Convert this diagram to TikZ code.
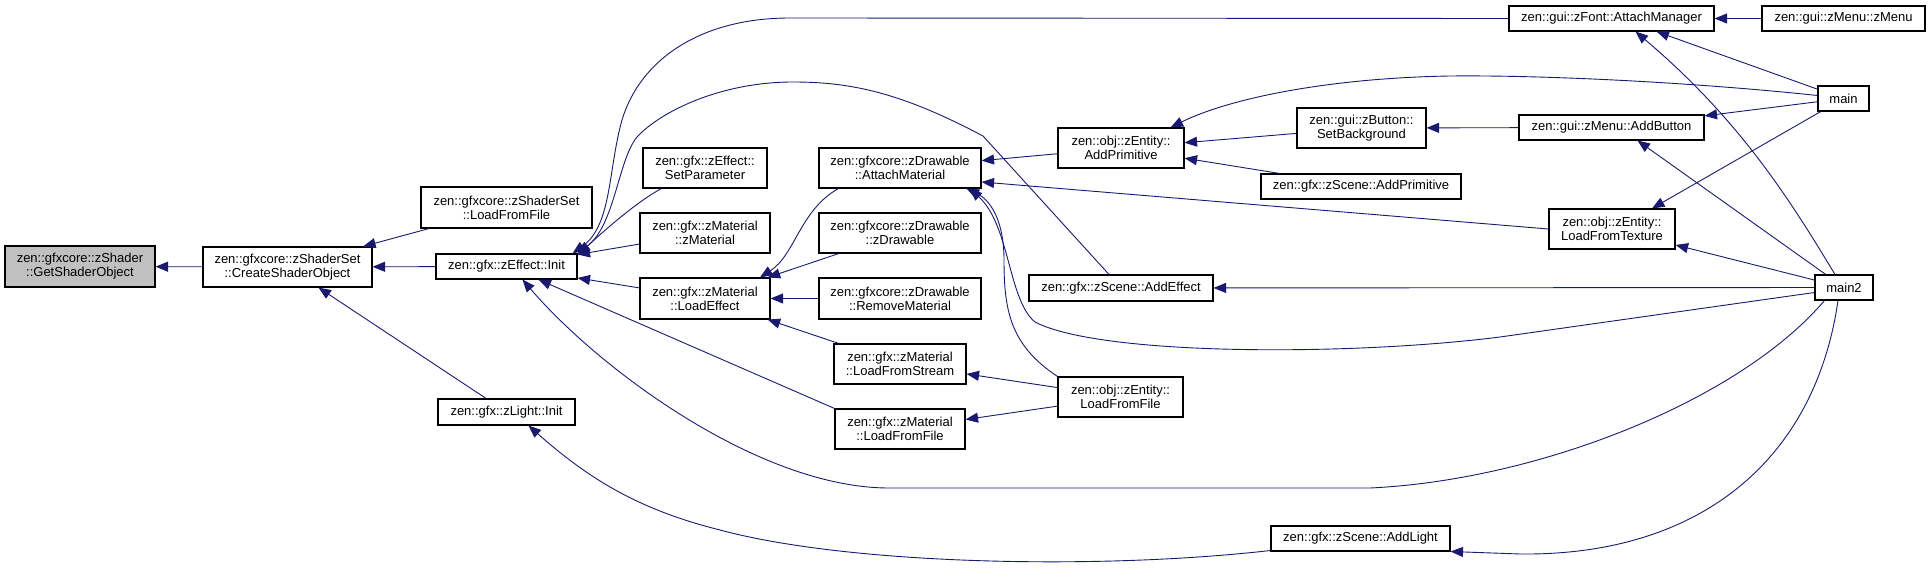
\documentclass[tikz,border=0pt]{standalone}
\usepackage[svgnames]{xcolor}
\usepackage{fontspec}
\setmainfont{Liberation Sans}
\usetikzlibrary{arrows.meta}

\begin{document}
\begin{tikzpicture}[x=1pt, y=-1pt, every node/.style={inner sep=0pt, font=\fontsize{13}{14}\selectfont},
  fn/.style={draw=black, line width=1.1pt, fill=white, align=center},
  edge/.style={draw=MidnightBlue, line width=0.9pt, -{Triangle[length=12.5pt,width=10pt]}}]
  \useasboundingbox (0,0) rectangle (1931,569);
  \node[fn, fill=Silver, minimum width=150, minimum height=41] (getshader) at (80,266.5) {zen::gfxcore::zShader\\::GetShaderObject};
  \node[fn, minimum width=169, minimum height=40] (createshader) at (287.5,267) {zen::gfxcore::zShaderSet\\::CreateShaderObject};
  \node[fn, minimum width=171, minimum height=41] (setloadfile) at (506.5,207.5) {zen::gfxcore::zShaderSet\\::LoadFromFile};
  \node[fn, minimum width=141, minimum height=25] (effectinit) at (506.5,266.5) {zen::gfx::zEffect::Init};
  \node[fn, minimum width=137, minimum height=26] (lightinit) at (506.5,412) {zen::gfx::zLight::Init};
  \node[fn, minimum width=124, minimum height=40] (setparam) at (705,168) {zen::gfx::zEffect::\\SetParameter};
  \node[fn, minimum width=130, minimum height=40] (matctor) at (705,233) {zen::gfx::zMaterial\\::zMaterial};
  \node[fn, minimum width=130, minimum height=41] (loadeffect) at (705,298.5) {zen::gfx::zMaterial\\::LoadEffect};
  \node[fn, minimum width=162, minimum height=40] (attachmat) at (900,168) {zen::gfxcore::zDrawable\\::AttachMaterial};
  \node[fn, minimum width=162, minimum height=40] (drawctor) at (900,233) {zen::gfxcore::zDrawable\\::zDrawable};
  \node[fn, minimum width=162, minimum height=41] (removemat) at (900,298.5) {zen::gfxcore::zDrawable\\::RemoveMaterial};
  \node[fn, minimum width=132, minimum height=40] (loadstream) at (900,364) {zen::gfx::zMaterial\\::LoadFromStream};
  \node[fn, minimum width=130, minimum height=40] (matloadfile) at (900,429) {zen::gfx::zMaterial\\::LoadFromFile};
  \node[fn, minimum width=126, minimum height=40] (addprim) at (1121,148) {zen::obj::zEntity::\\AddPrimitive};
  \node[fn, minimum width=184, minimum height=26] (addeffect) at (1121,288) {zen::gfx::zScene::AddEffect};
  \node[fn, minimum width=125, minimum height=40] (entloadfile) at (1120.5,397) {zen::obj::zEntity::\\LoadFromFile};
  \node[fn, minimum width=129, minimum height=40] (setbg) at (1361.5,128) {zen::gui::zButton::\\SetBackground};
  \node[fn, minimum width=200, minimum height=25] (sceneaddprim) at (1361,186.5) {zen::gfx::zScene::AddPrimitive};
  \node[fn, minimum width=179, minimum height=25] (addlight) at (1360.5,538.5) {zen::gfx::zScene::AddLight};
  \node[fn, minimum width=205, minimum height=25] (attachmgr) at (1611.5,18.5) {zen::gui::zFont::AttachManager};
  \node[fn, minimum width=163, minimum height=25] (menuctor) at (1843.5,18.5) {zen::gui::zMenu::zMenu};
  \node[fn, minimum width=185, minimum height=25] (addbutton) at (1611.5,127.5) {zen::gui::zMenu::AddButton};
  \node[fn, minimum width=126, minimum height=40] (loadtexture) at (1612,229) {zen::obj::zEntity::\\LoadFromTexture};
  \node[fn, minimum width=51, minimum height=25] (main) at (1843.5,98.5) {main};
  \node[fn, minimum width=58, minimum height=25] (mainb) at (1844,287.5) {main2};
  \draw[edge] (createshader) -- (getshader);
  \draw[edge] (setloadfile) -- (createshader);
  \draw[edge] (effectinit) -- (createshader);
  \draw[edge] (lightinit) -- (createshader);
  \draw[edge] (attachmgr.west) -- (790,18) .. controls (700,18) and (640,60) .. (622,120) .. controls (608,170) and (612,225) .. ([xshift=-5]effectinit.north east);
  \draw[edge] ([xshift=-12]addeffect.north) -- (983,136) .. controls (900,92) and (850,82) .. (793,82) .. controls (720,82) and (660,112) .. (637,137) .. controls (618,160) and (615,225) .. (effectinit.north east);
  \draw[edge] ([xshift=19]setparam.south west) .. controls (640,200) and (610,225) .. ([yshift=-2]effectinit.north east);
  \draw[edge] (matctor) -- (effectinit);
  \draw[edge] (loadeffect) -- (effectinit);
  \draw[edge] (matloadfile.north west) -- ([xshift=32]effectinit.south);
  \draw[edge] ([xshift=10]mainb.south west) .. controls (1740,400) and (1540,480) .. (1370,488) -- (889,488) .. controls (760,488) and (600,370) .. ([xshift=16]effectinit.south);
  \draw[edge] ([xshift=20]attachmat.south west) .. controls (800,210) and (795,255) .. ([xshift=55]loadeffect.north);
  \draw[edge] (drawctor) -- (loadeffect);
  \draw[edge] (removemat) -- (loadeffect);
  \draw[edge] (loadstream) -- (loadeffect);
  \draw[edge] (entloadfile) -- (loadstream);
  \draw[edge] (entloadfile) -- (matloadfile);
  \draw[edge] (entloadfile.north west) .. controls (1010,345) and (1004,310) .. (1004,260) .. controls (1004,220) and (990,200) .. ([xshift=-15]attachmat.south east);
  \draw[edge] ([yshift=-5]mainb.west) -- (1500,337) .. controls (1350,356) and (1100,356) .. (1035,322) .. controls (1008,300) and (1010,225) .. ([xshift=-12]attachmat.south east);
  \draw[edge] (addprim) -- (attachmat);
  \draw[edge] (loadtexture.west) -- ([yshift=-14]attachmat.east);
  \draw[edge] ([yshift=3]main.west) .. controls (1700,83) and (1550,75) .. (1450,76) .. controls (1330,78) and (1230,98) .. ([xshift=-14]addprim.north east);
  \draw[edge] (setbg) -- (addprim);
  \draw[edge] (sceneaddprim) -- (addprim);
  \draw[edge] (addbutton) -- (setbg);
  \draw[edge] (main) -- (addbutton);
  \draw[edge] (mainb) -- ([xshift=26]addbutton.south);
  \draw[edge] (menuctor) -- (attachmgr);
  \draw[edge] (main) -- ([xshift=45]attachmgr.south);
  \draw[edge] ([xshift=-9]mainb.north) .. controls (1790,200) and (1740,120) .. ([xshift=24]attachmgr.south);
  \draw[edge] (main) -- ([xshift=40]loadtexture.north);
  \draw[edge] (mainb) -- (loadtexture);
  \draw[edge] (mainb) -- (addeffect);
  \draw[edge] ([xshift=-6]mainb.south) .. controls (1815,460) and (1700,556) .. (1520,554) -- ([yshift=-13]addlight.east);
  \draw[edge] ([yshift=-12]addlight.west) .. controls (1100,570) and (850,565) .. (720,530) .. controls (640,510) and (590,480) .. ([xshift=22]lightinit.south);
\end{tikzpicture}
\end{document}
